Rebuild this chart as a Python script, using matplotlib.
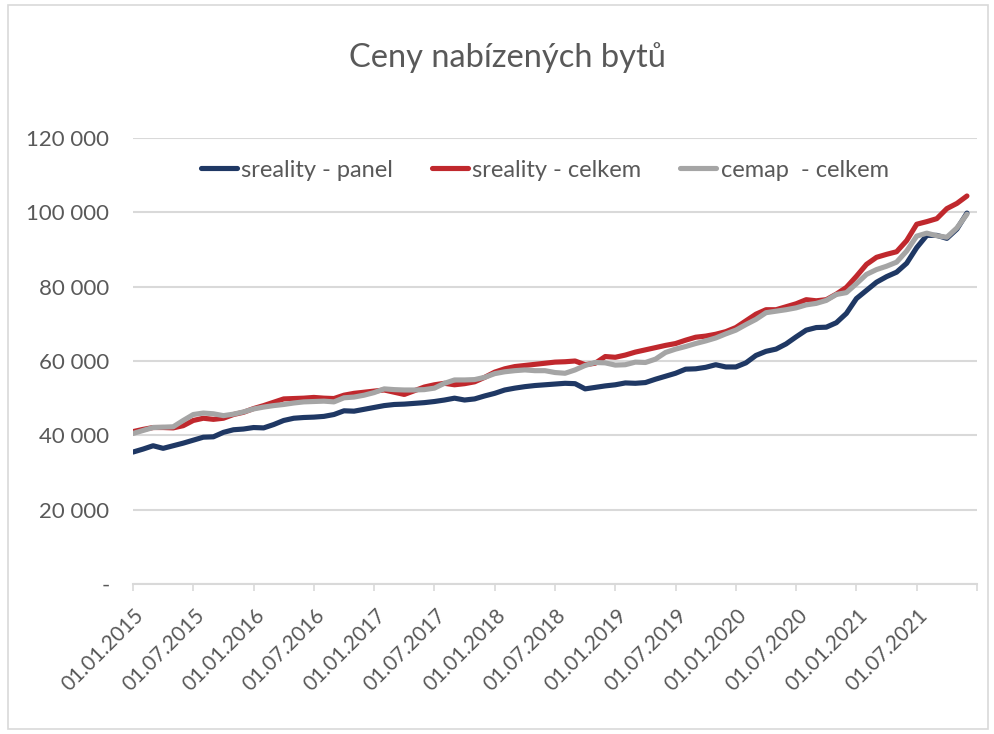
import matplotlib
matplotlib.use("Agg")
import matplotlib.pyplot as plt
import matplotlib.transforms as mtransforms
from matplotlib.patches import Rectangle
import pandas as pd

# ---- data ----
months = pd.date_range("2015-01-01", periods=84, freq="MS")
tick_labels = [d.strftime("%d.%m.%Y") for d in months[::6]]

sreality_panel = [35500, 36300, 37200, 36500, 37200, 37900, 38700, 39500, 39600, 40800,
                  41500, 41700, 42100, 42000, 42900, 44000, 44600, 44800, 44900, 45100,
                  45600, 46600, 46500, 47000, 47500, 48000, 48300, 48400, 48600, 48800,
                  49100, 49500, 50000, 49500, 49800, 50600, 51300, 52200, 52700, 53100,
                  53400, 53600, 53800, 54000, 53900, 52500, 52900, 53300, 53600, 54100,
                  54000, 54200, 55100, 55900, 56700, 57800, 57900, 58300, 59000, 58400,
                  58400, 59500, 61500, 62600, 63200, 64600, 66500, 68300, 69000, 69100,
                  70300, 72800, 76800, 79000, 81200, 82700, 83900, 86300, 90500, 93800,
                  93800, 93000, 95500, 99800]

sreality_celkem = [41000, 41600, 42100, 42100, 42000, 42600, 44000, 44600, 44300, 44600,
                   45600, 46200, 47200, 48000, 48900, 49800, 49900, 50000, 50200, 50000,
                   49900, 50800, 51300, 51600, 51900, 52200, 51600, 51000, 52000, 53000,
                   53600, 54000, 53600, 53900, 54400, 55600, 57000, 57900, 58500, 58800,
                   59100, 59400, 59700, 59800, 60000, 59000, 59400, 61200, 61000, 61600,
                   62400, 63000, 63600, 64200, 64700, 65600, 66400, 66700, 67200, 67900,
                   69000, 70800, 72600, 73800, 73800, 74600, 75400, 76500, 76200, 76500,
                   78000, 79800, 82800, 86000, 87900, 88700, 89400, 92400, 96800, 97500,
                   98300, 101000, 102400, 104400]

cemap_celkem = [40500, 41300, 42100, 42200, 42300, 44000, 45600, 46000, 45800, 45300,
                45700, 46300, 47100, 47600, 48000, 48300, 48700, 49000, 49100, 49200,
                49000, 50100, 50300, 50800, 51500, 52500, 52300, 52200, 52200, 52300,
                52700, 54000, 54900, 54900, 55000, 55600, 56600, 57100, 57400, 57600,
                57400, 57400, 56900, 56700, 57600, 58800, 59600, 59500, 58900, 59000,
                59700, 59600, 60500, 62300, 63200, 63900, 64700, 65400, 66200, 67300,
                68300, 69800, 71200, 73000, 73400, 73800, 74300, 75100, 75500, 76300,
                77900, 78400, 80800, 83300, 84600, 85500, 86600, 89600, 93600, 94400,
                93700, 93300, 95800, 99500]

series_names = ["sreality - panel", "sreality - celkem", "cemap  - celkem"]
y_ticks = [0, 20000, 40000, 60000, 80000, 100000, 120000]

# ---- style ----
FONT = "Lato"
TXT = "#595959"
GRID = "#d9d9d9"
colors = ["#1f3864", "#c0282d", "#a5a5a5"]

W, H = 994, 734
fig = plt.figure(figsize=(W / 100, H / 100), dpi=100)
fig.patches.append(Rectangle((8 / W, 5 / H), (988 - 8) / W, (729 - 5) / H,
                             transform=fig.transFigure, fill=False,
                             edgecolor=GRID, linewidth=1.2))

left, right, top, bottom = 133, 977, 138, 584
ax = fig.add_axes([left / W, (H - bottom) / H, (right - left) / W, (bottom - top) / H])

x = list(range(len(months)))
for vals, c, name in zip([sreality_panel, sreality_celkem, cemap_celkem], colors, series_names):
    ax.plot(x, vals, color=c, linewidth=3.7, label=name, solid_capstyle="round",
            solid_joinstyle="round", zorder=3)

ax.set_xlim(0, 84)
ax.set_ylim(0, 120000)

ax.set_yticks(y_ticks)
ax.set_yticklabels(["-" if v == 0 else f"{v:,}".replace(",", " ") for v in y_ticks])
ax.yaxis.grid(True, color=GRID, linewidth=1.5, zorder=0)
ax.tick_params(axis="y", length=0, pad=17, labelsize=16, labelcolor=TXT)
for lab in ax.get_yticklabels():
    lab.set_fontfamily(FONT)

ax.set_xticks(list(range(0, 85, 6)))
ax.set_xticklabels(tick_labels + [""])
ax.tick_params(axis="x", length=5, width=1.2, color=GRID, direction="out",
               labelsize=15, labelcolor=TXT, pad=2)
offset = mtransforms.ScaledTranslation(8 / 100, -19 / 100, fig.dpi_scale_trans)
for lab in ax.get_xticklabels():
    lab.set_fontfamily(FONT)
    lab.set_rotation(45)
    lab.set_ha("right")
    lab.set_va("center")
    lab.set_rotation_mode("anchor")
    lab.set_transform(lab.get_transform() + offset)

for s in ["top", "right", "left"]:
    ax.spines[s].set_visible(False)
ax.spines["bottom"].set_color(GRID)
ax.spines["bottom"].set_linewidth(1.5)
ax.set_axisbelow(True)

leg = ax.legend(loc="center", bbox_to_anchor=(0.488, 0.928), ncol=3, frameon=False,
                handlelength=1.5, handletextpad=0.2, columnspacing=1.65,
                prop={"family": FONT, "size": 17})
for t in leg.get_texts():
    t.set_color(TXT)

fig.text(507 / W, 1 - 58 / H, "Ceny nabízených bytů", ha="center", va="center",
         fontsize=23.5, color=TXT, fontfamily=FONT)

fig.savefig("out.png", dpi=100)
